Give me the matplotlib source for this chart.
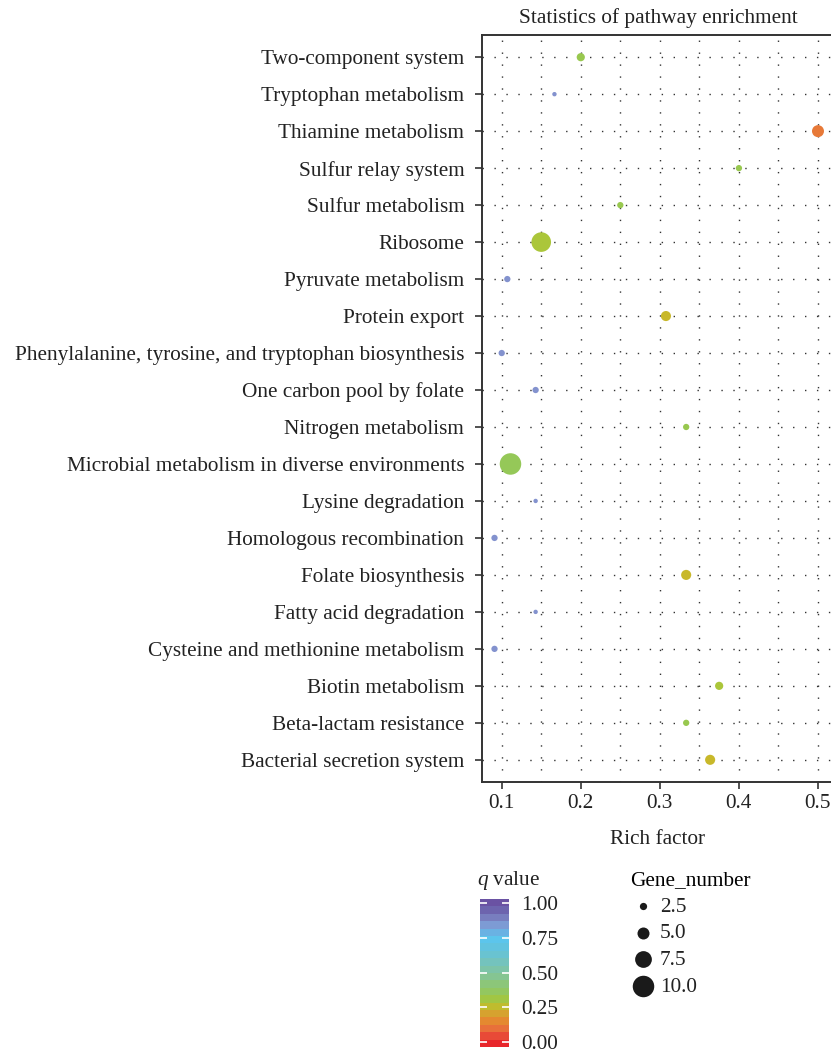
import numpy as np
import matplotlib
matplotlib.use("Agg")
import matplotlib.pyplot as plt
from matplotlib.colors import LinearSegmentedColormap

plt.rcParams["font.family"] = ["Liberation Serif", "DejaVu Serif"]
plt.rcParams["mathtext.fontset"] = "custom"
plt.rcParams["mathtext.rm"] = "Liberation Serif"
plt.rcParams["mathtext.it"] = "Liberation Serif:italic"

pathways = [
    "Two-component system",
    "Tryptophan metabolism",
    "Thiamine metabolism",
    "Sulfur relay system",
    "Sulfur metabolism",
    "Ribosome",
    "Pyruvate metabolism",
    "Protein export",
    "Phenylalanine, tyrosine, and tryptophan biosynthesis",
    "One carbon pool by folate",
    "Nitrogen metabolism",
    "Microbial metabolism in diverse environments",
    "Lysine degradation",
    "Homologous recombination",
    "Folate biosynthesis",
    "Fatty acid degradation",
    "Cysteine and methionine metabolism",
    "Biotin metabolism",
    "Beta-lactam resistance",
    "Bacterial secretion system",
]
rich_factor = [0.2, 0.1667, 0.5, 0.4, 0.25, 0.15, 0.1071, 0.3077, 0.1, 0.1429,
               0.3333, 0.1111, 0.1429, 0.0909, 0.3333, 0.1429, 0.0909, 0.375, 0.3333, 0.3636]
q_value = [0.33, 0.86, 0.11, 0.33, 0.33, 0.29, 0.86, 0.24, 0.86, 0.86,
           0.33, 0.35, 0.86, 0.86, 0.24, 0.86, 0.86, 0.29, 0.33, 0.24]
gene_number = [3, 1, 5, 2, 2, 9, 2, 4, 2, 2,
               2, 10, 1, 2, 4, 1, 2, 3, 2, 4]

legend_genes = [2.5, 5.0, 7.5, 10.0]
q_ticks = [0.0, 0.25, 0.5, 0.75, 1.0]

cmap = LinearSegmentedColormap.from_list("qv", [
    (0.00, "#e8262b"), (0.05, "#e8503a"), (0.10, "#e8753a"), (0.15, "#e48a30"),
    (0.20, "#d8a030"), (0.24, "#c8b82a"), (0.28, "#b0c535"), (0.33, "#98c84f"),
    (0.45, "#88c68a"), (0.55, "#7ac4b4"), (0.65, "#66c3d8"), (0.75, "#5bc6f0"),
    (0.86, "#8494cf"), (0.93, "#6f6cb3"), (1.00, "#6a52a3"),
])

W, H = 831, 1053
FS = 15.3
TXT = "#222222"


def msize(g):
    d_px = 2.5 + 1.9 * np.asarray(g, dtype=float)
    return (d_px * 0.72) ** 2


fig = plt.figure(figsize=(W / 100, H / 100), dpi=100)
ax = fig.add_axes([481.7 / W, 1 - 782 / H, 352.5 / W, 747 / H])

ypos = np.arange(len(pathways))
ax.set_xlim(0.0747, 0.5205)
ax.set_ylim(len(pathways) - 0.4, -0.6)

# dotted grid: vertical every 0.05, horizontal at each pathway
dots = dict(color="#333333", linewidth=1.0, linestyle=(0, (1.0, 7.6)), zorder=0)
for xv in np.arange(0.1, 0.51, 0.05):
    ax.axvline(xv, **dots)
for yv in ypos:
    ax.axhline(yv, **dots)

ax.scatter(rich_factor, ypos, s=msize(gene_number), c=q_value, cmap=cmap,
           vmin=0, vmax=1, linewidths=0, zorder=3)

ax.set_yticks(ypos)
ax.set_yticklabels(pathways)
ax.set_xticks([0.1, 0.2, 0.3, 0.4, 0.5])
ax.set_xticklabels(["0.1", "0.2", "0.3", "0.4", "0.5"])
ax.tick_params(axis="both", labelsize=FS, colors="#333333", labelcolor=TXT,
               length=5, width=1.2)
ax.tick_params(axis="y", pad=7.5)
ax.tick_params(axis="x", pad=4)
for side in ["left", "bottom", "top"]:
    ax.spines[side].set_linewidth(1.4)
    ax.spines[side].set_color("#333333")
ax.spines["right"].set_visible(False)

ax.set_xlabel("Rich factor", fontsize=FS, color=TXT, labelpad=12)
ax.set_title("Statistics of pathway enrichment", fontsize=FS, color=TXT, pad=9)

# stepped q value colour bar
cax = fig.add_axes([480 / W, 1 - 1047 / H, 29 / W, 148 / H])
lo, hi = -0.036, 1.029
bins = np.linspace(lo, hi, 21)
centers = (bins[:-1] + bins[1:]) / 2
cax.imshow(centers[:, None], cmap=cmap, vmin=0, vmax=1, aspect="auto",
           origin="lower", extent=(0, 1, lo, hi), interpolation="nearest")
cax.set_xticks([])
cax.set_yticks(q_ticks)
cax.set_yticklabels([f"{t:.2f}" for t in q_ticks])
cax.yaxis.tick_right()
cax.tick_params(axis="y", which="both", left=True, right=True, direction="in",
                color="white", length=5, width=1.2, labelsize=FS,
                labelcolor=TXT, pad=9)
for sp in cax.spines.values():
    sp.set_visible(False)
fig.text(477 / W, 1 - 880 / H, r"$q$ value", fontsize=FS, color=TXT,
         ha="left", va="center")

# gene number size legend
handles = [ax.scatter([], [], s=msize(g), c="#1a1a1a", linewidths=0)
           for g in legend_genes]
fig.legend(handles, [f"{g:.1f}" for g in legend_genes], title="Gene_number",
           loc="upper left", bbox_to_anchor=(630 / W, 1 - 871 / H),
           frameon=False, fontsize=FS, title_fontsize=FS, labelspacing=0.32,
           handlelength=1.2, handletextpad=0.2, borderaxespad=0, borderpad=0,
           alignment="left", labelcolor=TXT)

fig.savefig("out.png", dpi=100)
